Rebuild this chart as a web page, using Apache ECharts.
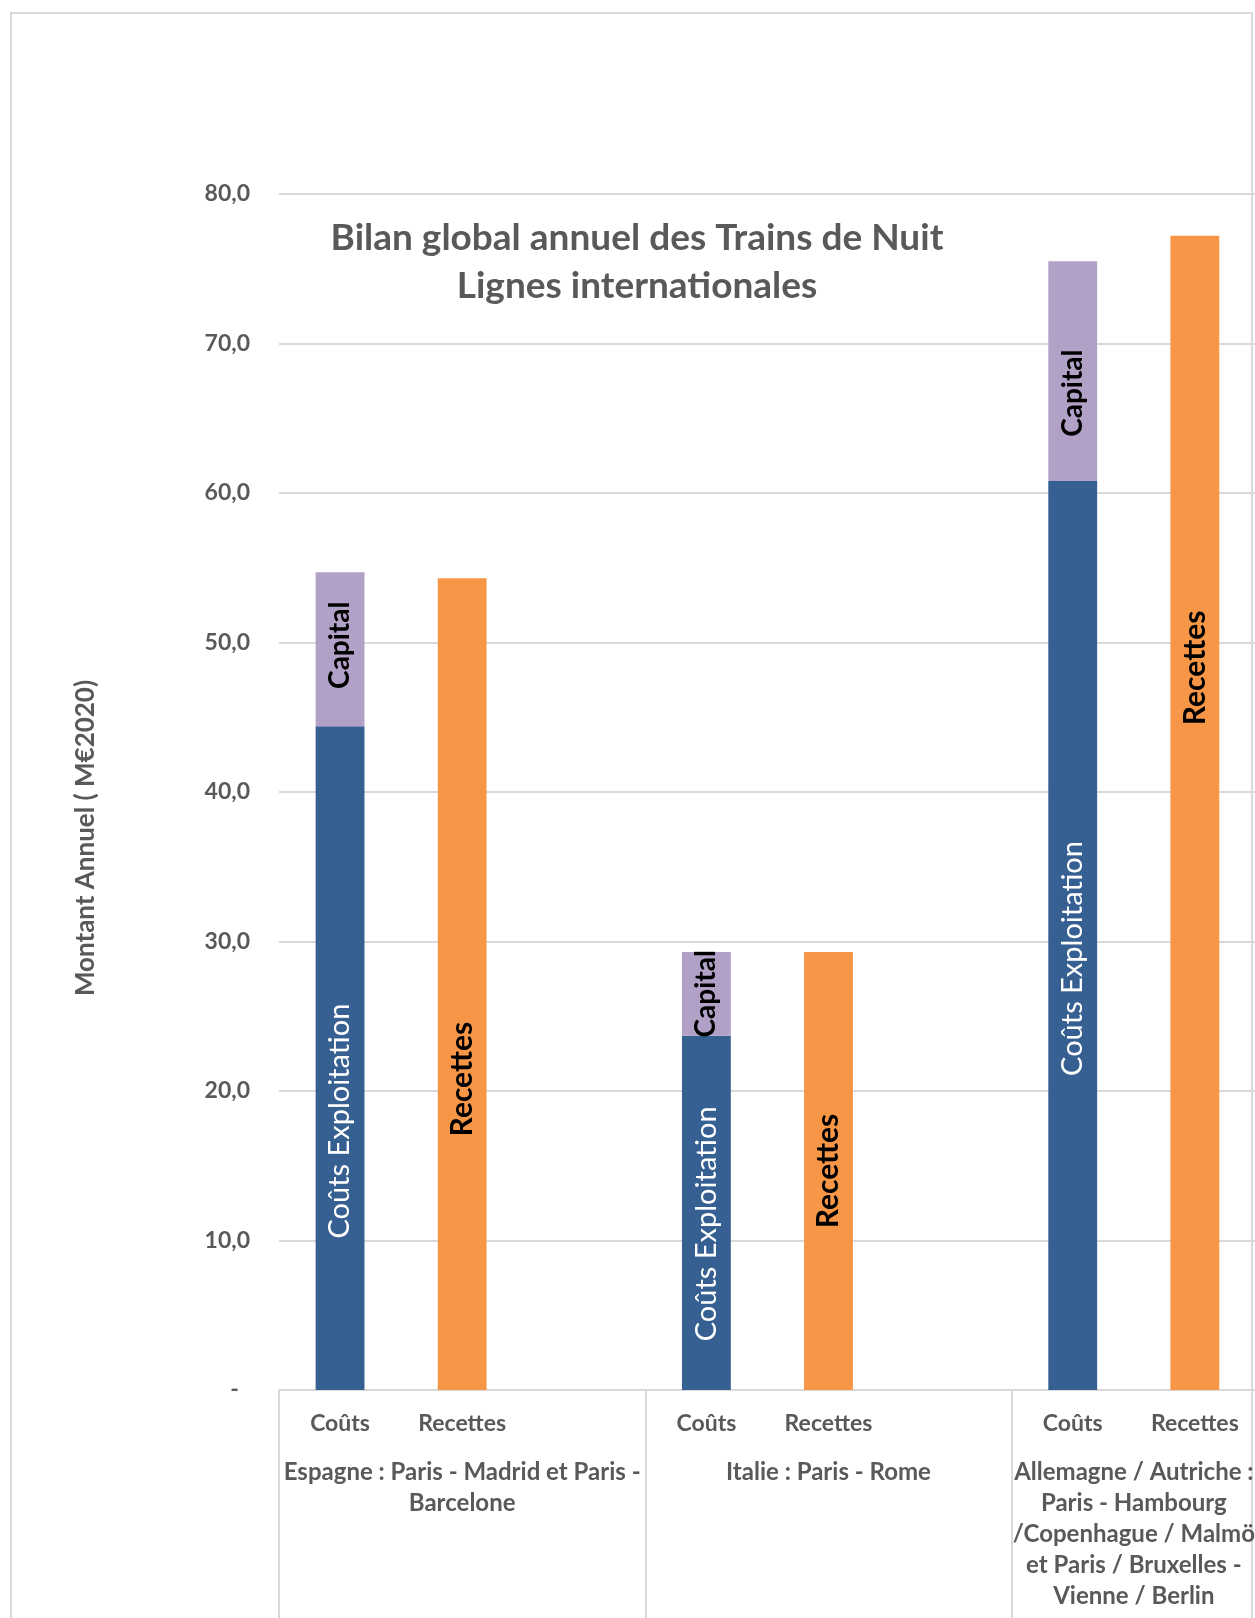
<!DOCTYPE html>
<html>
<head>
<meta charset="utf-8">
<script src="https://cdn.jsdelivr.net/npm/echarts@6/dist/echarts.min.js"></script>
<style>
  html, body { margin: 0; padding: 0; background: #fff; }
  #frame { position: absolute; left: 10px; top: 12px; width: 1243px; height: 1700px; border: 2px solid #d9d9d9; box-sizing: border-box; }
  #main { position: absolute; left: 0; top: 0; width: 1255px; height: 1618px; }
</style>
</head>
<body>
<div id="frame"></div>
<div id="main"></div>
<script>
// data (M€2020)
var groups = [
  'Espagne : Paris - Madrid et Paris -\nBarcelone',
  'Italie : Paris - Rome',
  'Allemagne / Autriche :\nParis - Hambourg\n/Copenhague / Malmö\net Paris / Bruxelles -\nVienne / Berlin'
];
var subCats = ['Coûts', 'Recettes', ''];
var exploitation = [44.4, 23.7, 60.8];
var capital = [10.3, 5.6, 14.7];
var recettes = [54.3, 29.3, 77.2];

// label nudges (px, down positive) to follow the original placement
var explShift = [63, 11, 23];
var capShift = [-4, 0, 22];
var recShift = [95, 0, -145];

var grey = '#595959';
var font = 'Lato';

var categories = [];
groups.forEach(function () { subCats.forEach(function (s) { categories.push(s); }); });

// labels are rotated 90deg, so the offset works in the rotated frame
function spread(values, slot, shifts) {
  var out = [];
  values.forEach(function (v, i) {
    subCats.forEach(function (s, j) {
      if (j === slot) out.push({ value: v, label: { offset: [-shifts[i], 0] } });
      else out.push('-');
    });
  });
  return out;
}

var chartDom = document.getElementById('main');
var myChart = echarts.init(chartDom);
var option = {
  animation: false,
  textStyle: { fontFamily: font },
  title: {
    text: 'Bilan global annuel des Trains de Nuit\nLignes internationales',
    left: 637,
    top: 214,
    padding: 0,
    textAlign: 'center',
    textStyle: { fontFamily: font, fontSize: 37, fontWeight: 'bold', color: grey, lineHeight: 48 }
  },
  grid: { left: 279, top: 194, width: 1099, height: 1196, outerBoundsMode: 'none' },
  xAxis: [
    {
      type: 'category',
      data: categories,
      axisTick: { show: false },
      axisLine: { lineStyle: { color: '#d9d9d9', width: 2 } },
      axisLabel: { interval: 0, margin: 21, color: grey, fontSize: 23, fontWeight: 'bold', fontFamily: font, lineHeight: 26 }
    },
    {
      type: 'category',
      position: 'bottom',
      offset: 0,
      data: groups.map(function (g, i) {
        return i === 2 ? { value: g, textStyle: { padding: [0, 122, 0, 0] } } : g;
      }),
      axisLine: { show: false },
      axisTick: { show: true, length: 230, lineStyle: { color: '#d9d9d9', width: 2 } },
      axisLabel: { interval: 0, margin: 67, color: grey, fontSize: 24, fontWeight: 'bold', fontFamily: font, lineHeight: 31 }
    }
  ],
  yAxis: {
    type: 'value',
    min: 0,
    max: 80,
    interval: 10,
    name: 'Montant Annuel ( M€2020)',
    nameLocation: 'middle',
    nameRotate: 90,
    nameGap: 180,
    nameTextStyle: { color: grey, fontSize: 26, fontWeight: 'bold', fontFamily: font, padding: [0, 92, 0, 0] },
    axisLine: { show: false },
    axisTick: { show: false },
    splitLine: { lineStyle: { color: '#d9d9d9', width: 2 } },
    axisLabel: {
      margin: 29,
      color: grey,
      fontSize: 23,
      fontWeight: 'bold',
      fontFamily: font,
      formatter: function (v) { return v === 0 ? '-  ' : v.toFixed(1).replace('.', ','); }
    }
  },
  series: [
    {
      name: 'Coûts Exploitation',
      type: 'bar',
      stack: 'a',
      barWidth: '40%',
      itemStyle: { color: '#366092' },
      label: { show: true, position: 'inside', rotate: 90, formatter: '{a}', color: '#fff', fontSize: 29, fontFamily: font },
      data: spread(exploitation, 0, explShift)
    },
    {
      name: 'Capital',
      type: 'bar',
      stack: 'a',
      barWidth: '40%',
      itemStyle: { color: '#b2a1c7' },
      label: { show: true, position: 'inside', rotate: 90, formatter: '{a}', color: '#000', fontSize: 28, fontWeight: 'bold', fontFamily: font },
      data: spread(capital, 0, capShift)
    },
    {
      name: 'Recettes',
      type: 'bar',
      stack: 'a',
      barWidth: '40%',
      itemStyle: { color: '#f79646' },
      label: { show: true, position: 'inside', rotate: 90, formatter: '{a}', color: '#000', fontSize: 30, fontWeight: 'bold', fontFamily: font },
      data: spread(recettes, 1, recShift)
    }
  ]
};
option && myChart.setOption(option);
</script>
</body>
</html>
